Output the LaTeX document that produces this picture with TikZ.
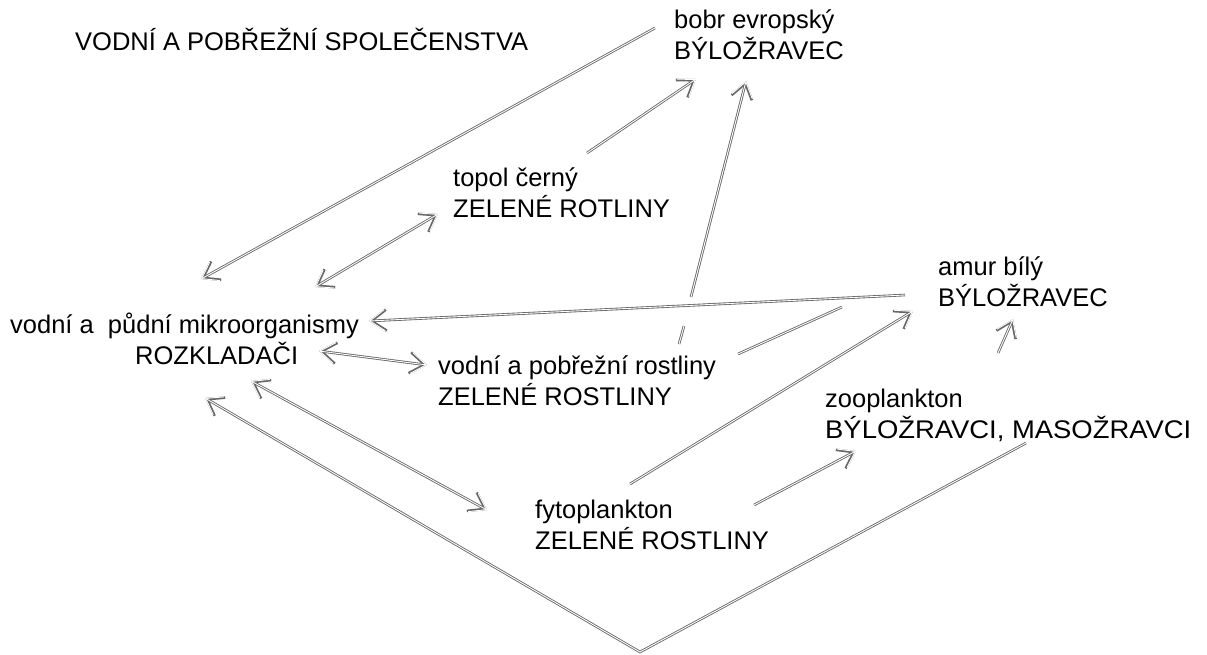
\documentclass[tikz,border=0pt]{standalone}
\usepackage{fontspec}
\setmainfont{Liberation Sans}
\usetikzlibrary{arrows.meta}
\newcommand{\twoline}[2]{\begin{tabular}[t]{@{}l@{}}#1\\#2\end{tabular}}
\begin{document}
\begin{tikzpicture}[x=1pt,y=-1pt,
  lbl/.style={anchor=base west, inner sep=0pt, font=\fontsize{25.5}{31.5}\selectfont},
  conn/.style={draw=black!60, line width=2.6pt,
     postaction={draw=white, line width=0.9pt}},
  tipA/.tip={Straight Barb[length=15pt, width=21pt]},
  hd/.style={-tipA},
  hh/.style={tipA-tipA}]
\useasboundingbox (0,0) rectangle (1207,654);
% labels
\node[lbl] (title) at (75,50) {VODNÍ A POBŘEŽNÍ SPOLEČENSTVA};
\node[lbl] (bobr) at (674,28) {\twoline{bobr evropský}{BÝLOŽRAVEC}};
\node[lbl] (topol) at (453,186) {\twoline{topol černý}{ZELENÉ ROTLINY}};
\node[lbl] (amur) at (938,275) {\twoline{amur bílý}{BÝLOŽRAVEC}};
\node[lbl] (mikro) at (10,333) {\twoline{vodní a\ \ půdní mikroorganismy}{\hspace*{125pt}ROZKLADAČI}};
\node[lbl] (rostl) at (438,374) {\twoline{vodní a pobřežní rostliny}{ZELENÉ ROSTLINY}};
\node[lbl] (zoo) at (825,407) {\twoline{zooplankton}{\scalebox{1.075}[1]{BÝLOŽRAVCI, MASOŽRAVCI}}};
\node[lbl] (fyto) at (535,518) {\twoline{fytoplankton}{ZELENÉ ROSTLINY}};
% connector end points
\coordinate (b1) at (655,28);   \coordinate (m1) at (201,279);
\coordinate (t1) at (438,214);  \coordinate (m2) at (315,287);
\coordinate (t2) at (587,153);  \coordinate (b2) at (696,79);
\coordinate (r1) at (679,344);  \coordinate (r1b) at (684,326);
\coordinate (r1c) at (691,297); \coordinate (b3) at (746,81);
\coordinate (a1) at (905,295);  \coordinate (m3) at (369,321);
\coordinate (m4) at (319,351);  \coordinate (r2) at (427,365);
\coordinate (r3) at (738,354);  \coordinate (a2) at (842,307);
\coordinate (f1) at (630,484);  \coordinate (a3) at (913,311);
\coordinate (f2) at (754,505);  \coordinate (z1) at (856,451);
\coordinate (z2) at (998,353);  \coordinate (a4) at (1013,319);
\coordinate (z3) at (1026,443); \coordinate (vb) at (640,652);
\coordinate (m5) at (205,398);
\coordinate (m6) at (251,381);  \coordinate (f3) at (487,510);
% connectors
\draw[conn,hd] (b1) -- (m1);
\draw[conn,hh] (t1) -- (m2);
\draw[conn,hd] (t2) -- (b2);
\draw[conn] (r1) -- (r1b);
\draw[conn,hd] (r1c) -- (b3);
\draw[conn,hd] (a1) -- (m3);
\draw[conn,hh] (m4) -- (r2);
\draw[conn] (r3) -- (a2);
\draw[conn,hd] (f1) -- (a3);
\draw[conn,hd] (f2) -- (z1);
\draw[conn,hd] (z2) -- (a4);
\draw[conn,hd] (z3) -- (vb) -- (m5);
\draw[conn,hh] (m6) -- (f3);
\end{tikzpicture}
\end{document}
